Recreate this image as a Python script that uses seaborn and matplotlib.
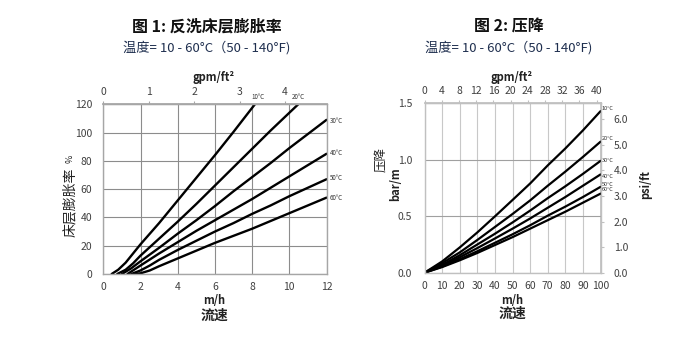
import numpy as np
import pandas as pd
import matplotlib
matplotlib.use("Agg")
import matplotlib.pyplot as plt
import seaborn as sns
from matplotlib.ticker import MultipleLocator, FormatStrFormatter

# ---------------- data: chart 1 (bed expansion %) ----------------
temps = ["10°C", "20°C", "30°C", "40°C", "50°C", "60°C"]
exp_x_10 = [0.45, 0.8, 1.2, 1.6, 2, 3, 4, 5, 6, 7, 8.15]
exp_y_10 = [0, 3, 8, 14.5, 21, 36, 52, 68, 84, 100.5, 120]
exp_x_20 = [0.75, 1.2, 1.6, 2, 3, 4, 5, 6, 7, 8, 9, 10.48]
exp_y_20 = [0, 3, 7.5, 13, 25, 37, 49.5, 62.5, 75.5, 88.5, 101.5, 120]
exp_x_30 = [1.0, 1.5, 2, 3, 4, 5, 6, 7, 8, 9, 10, 11, 12]
exp_y_30 = [0, 4, 9, 18.5, 28.5, 38, 48, 58.5, 68.5, 78.5, 89, 99, 109]
exp_x_40 = [1.3, 2, 3, 4, 5, 6, 7, 8, 9, 10, 11, 12]
exp_y_40 = [0, 6, 14.5, 22.5, 30.5, 38, 45.5, 53, 61, 69, 77, 85]
exp_x_50 = [1.5, 2, 2.5, 3, 4, 5, 6, 7, 8, 9, 10, 11, 12]
exp_y_50 = [0, 2.5, 6, 10, 17, 23.5, 30, 36, 42.5, 48.5, 55, 61, 67]
exp_x_60 = [1.7, 2, 2.5, 3, 4, 5, 6, 7, 8, 9, 10, 11, 12]
exp_y_60 = [0, 0.5, 2.5, 5.5, 11, 16.5, 22, 27, 32, 37.5, 43, 48.5, 54]

# ---------------- data: chart 2 (pressure drop bar/m) ----------------
dp_x = [0, 10, 20, 30, 40, 50, 60, 70, 80, 90, 100]
dp_10 = [0, 0.10, 0.224, 0.357, 0.499, 0.644, 0.79, 0.95, 1.10, 1.26, 1.43]
dp_20 = [0, 0.085, 0.18, 0.29, 0.405, 0.52, 0.64, 0.77, 0.895, 1.025, 1.16]
dp_30 = [0, 0.07, 0.155, 0.25, 0.345, 0.445, 0.55, 0.66, 0.765, 0.875, 0.99]
dp_40 = [0, 0.062, 0.137, 0.218, 0.303, 0.39, 0.48, 0.575, 0.67, 0.77, 0.87]
dp_50 = [0, 0.054, 0.12, 0.19, 0.265, 0.34, 0.42, 0.505, 0.585, 0.67, 0.76]
dp_60 = [0, 0.05, 0.11, 0.175, 0.245, 0.315, 0.39, 0.465, 0.54, 0.62, 0.70]

exp_x_ticks = [0, 2, 4, 6, 8, 10, 12]
exp_y_ticks = [0, 20, 40, 60, 80, 100, 120]
exp_top_ticks = [0, 1, 2, 3, 4]
dp_x_ticks = [0, 10, 20, 30, 40, 50, 60, 70, 80, 90, 100]
dp_y_ticks = [0.0, 0.5, 1.0, 1.5]
dp_top_ticks = [0, 4, 8, 12, 16, 20, 24, 28, 32, 36, 40]
dp_psi_ticks = [0.0, 1.0, 2.0, 3.0, 4.0, 5.0, 6.0]

title1 = "图 1: 反洗床层膨胀率"
title2 = "图 2: 压降"
subtitle = "温度= 10 - 60°C（50 - 140°F)"

M_H_PER_GPM = 2.4448
PSI_PER_BAR = 4.42

# ---------------- build long tables ----------------
exp_sets = [(exp_x_10, exp_y_10), (exp_x_20, exp_y_20), (exp_x_30, exp_y_30),
            (exp_x_40, exp_y_40), (exp_x_50, exp_y_50), (exp_x_60, exp_y_60)]
df1 = pd.concat([pd.DataFrame({"x": xs, "y": ys, "t": t})
                 for t, (xs, ys) in zip(temps, exp_sets)], ignore_index=True)
dp_sets = [dp_10, dp_20, dp_30, dp_40, dp_50, dp_60]
df2 = pd.concat([pd.DataFrame({"x": dp_x, "y": ys, "t": t})
                 for t, ys in zip(temps, dp_sets)], ignore_index=True)

sns.set_theme(style="white")
plt.rcParams["font.family"] = ["Noto Sans CJK SC", "DejaVu Sans"]
plt.rcParams["axes.unicode_minus"] = False

W, H = 680, 338
fig = plt.figure(figsize=(W / 100, H / 100), dpi=100)

def fx(px):
    return px / W

def fy(py):
    return 1 - py / H

tick_col = "#404040"
spine_col = "#a6a6a6"
grid_col = "#8c8c8c"
pal = {t: "black" for t in temps}

# ================= chart 1 =================
ax1 = fig.add_axes([fx(103.3), fy(274), fx(326.5) - fx(103.3), fy(104.3) - fy(274)])
sns.lineplot(data=df1, x="x", y="y", hue="t", palette=pal, ax=ax1,
             linewidth=1.7, legend=False, sort=False, estimator=None)
ax1.set_xlim(0, 12)
ax1.set_ylim(0, 120)
ax1.set_xticks(exp_x_ticks)
ax1.set_yticks(exp_y_ticks)
ax1.xaxis.set_minor_locator(MultipleLocator(1))
ax1.yaxis.set_minor_locator(MultipleLocator(10))
ax1.grid(True, which="major", color=grid_col, linewidth=0.8)
ax1.set_xlabel("")
ax1.set_ylabel("")
for s in ax1.spines.values():
    s.set_color(spine_col)
    s.set_linewidth(1.0)
ax1.tick_params(axis="both", which="major", labelsize=7.5, colors=spine_col,
                labelcolor=tick_col, length=3, width=0.8, direction="in", pad=6)
ax1.tick_params(axis="both", which="minor", colors=spine_col, length=2,
                width=0.6, direction="in")
ax1.tick_params(axis="y", pad=8)
top1 = ax1.secondary_xaxis("top", functions=(lambda x: x / M_H_PER_GPM,
                                             lambda g: g * M_H_PER_GPM))
top1.set_xticks(exp_top_ticks)
top1.tick_params(labelsize=7.5, colors=spine_col, labelcolor=tick_col,
                 length=2.5, width=0.8, direction="out", pad=3)
top1.spines["top"].set_color(spine_col)

for lbl, px, py in [("10°C", 258, 97), ("20°C", 298, 97)]:
    fig.text(fx(px), fy(py), lbl, fontsize=4.5, color="#333333",
             ha="center", va="center")
for lbl, py in [("30°C", 121), ("40°C", 153), ("50°C", 178), ("60°C", 198)]:
    fig.text(fx(330), fy(py), lbl, fontsize=4.5, color="#333333",
             ha="left", va="center")

fig.text(fx(214), fy(77), "gpm/ft²", fontsize=8, fontweight="bold",
         ha="center", va="center", color="#222222")
fig.text(fx(214), fy(301), "m/h", fontsize=8, fontweight="bold",
         ha="center", va="center", color="#222222")
fig.text(fx(214), fy(316), "流速", fontsize=10, fontweight="bold",
         ha="center", va="center", color="#222222")
fig.text(fx(70), fy(202), "床层膨胀率", fontsize=10, rotation=90,
         ha="center", va="center", color="#222222")
fig.text(fx(70), fy(159), "%", fontsize=6.5, rotation=90,
         ha="center", va="center", color="#222222")
fig.text(fx(207), fy(27), title1, fontsize=11.5, fontweight="bold",
         ha="center", va="center", color="#111111")
fig.text(fx(207), fy(48), subtitle, fontsize=9.5,
         ha="center", va="center", color="#1f2f4f")

# ================= chart 2 =================
ax2 = fig.add_axes([fx(424.6), fy(272.7), fx(600.5) - fx(424.6), fy(103.3) - fy(272.7)])
sns.lineplot(data=df2, x="x", y="y", hue="t", palette=pal, ax=ax2,
             linewidth=1.6, legend=False, sort=False, estimator=None)
ax2.set_xlim(0, 100)
ax2.set_ylim(0, 1.5)
ax2.set_xticks(dp_x_ticks)
ax2.set_yticks(dp_y_ticks)
ax2.yaxis.set_major_formatter(FormatStrFormatter("%.1f"))
ax2.xaxis.set_minor_locator(MultipleLocator(5))
ax2.yaxis.set_minor_locator(MultipleLocator(0.1))
ax2.xaxis.grid(True, which="major", color="#c8c8c8", linewidth=0.8)
ax2.yaxis.grid(True, which="major", color="#a0a0a0", linewidth=0.8)
ax2.set_xlabel("")
ax2.set_ylabel("")
for s in ax2.spines.values():
    s.set_color("#c0c0c0")
    s.set_linewidth(1.0)
ax2.tick_params(axis="both", which="major", labelsize=7.5, colors="#c0c0c0",
                labelcolor=tick_col, length=3, width=0.8, direction="in", pad=6)
ax2.tick_params(axis="both", which="minor", colors="#c0c0c0", length=2,
                width=0.6, direction="in")
ax2.tick_params(axis="y", pad=9)
top2 = ax2.secondary_xaxis("top", functions=(lambda x: x / M_H_PER_GPM,
                                             lambda g: g * M_H_PER_GPM))
top2.set_xticks(dp_top_ticks)
top2.tick_params(labelsize=7.5, colors="#c0c0c0", labelcolor=tick_col,
                 length=2.5, width=0.8, direction="out", pad=3)
top2.spines["top"].set_color("#c0c0c0")
right2 = ax2.secondary_yaxis("right", functions=(lambda b: b * PSI_PER_BAR,
                                                 lambda p: p / PSI_PER_BAR))
right2.set_yticks(dp_psi_ticks)
right2.yaxis.set_major_formatter(FormatStrFormatter("%.1f"))
right2.tick_params(labelsize=7.5, colors="#c0c0c0", labelcolor=tick_col,
                   length=2.5, width=0.8, direction="out", pad=7)
right2.spines["right"].set_color("#c0c0c0")

for lbl, py in [("10°C", 109), ("20°C", 138), ("30°C", 160), ("40°C", 176),
                ("50°C", 184), ("60°C", 189.5)]:
    fig.text(fx(602), fy(py), lbl, fontsize=4.0, color="#333333",
             ha="left", va="center")

fig.text(fx(512), fy(77), "gpm/ft²", fontsize=8, fontweight="bold",
         ha="center", va="center", color="#222222")
fig.text(fx(512), fy(300), "m/h", fontsize=8, fontweight="bold",
         ha="center", va="center", color="#222222")
fig.text(fx(512), fy(314), "流速", fontsize=10, fontweight="bold",
         ha="center", va="center", color="#222222")
fig.text(fx(381), fy(160), "压降", fontsize=9, rotation=90,
         ha="center", va="center", color="#222222")
fig.text(fx(396), fy(184), "bar/m", fontsize=8, fontweight="bold", rotation=90,
         ha="center", va="center", color="#222222")
fig.text(fx(646), fy(185), "psi/ft", fontsize=8, fontweight="bold", rotation=90,
         ha="center", va="center", color="#222222")
fig.text(fx(509), fy(27), title2, fontsize=11.5, fontweight="bold",
         ha="center", va="center", color="#111111")
fig.text(fx(509), fy(48), subtitle, fontsize=9.5,
         ha="center", va="center", color="#1f2f4f")

fig.savefig("out.png", dpi=100, facecolor="white")
